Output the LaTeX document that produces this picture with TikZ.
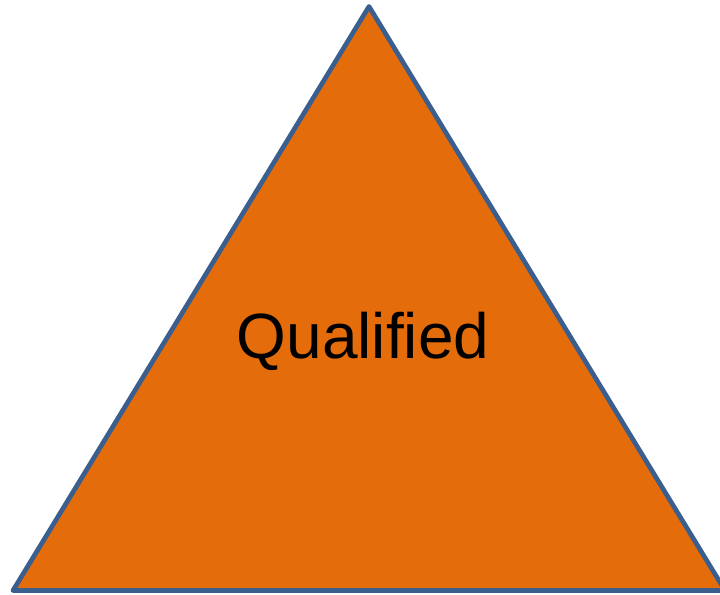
\documentclass[tikz,border=0pt]{standalone}
\usepackage{fontspec}
\setmainfont{Liberation Sans}
\definecolor{triorange}{HTML}{E46C0A}
\definecolor{triblue}{HTML}{3A5F8E}
\tikzset{
  level/.style={fill=triorange, draw=triblue, line width=4pt, line join=round},
  levellabel/.style={font=\fontsize{54.6}{60}\selectfont, text=black, inner sep=0pt}
}
\begin{document}
\begin{tikzpicture}[x=0.03cm, y=-0.03cm]
\useasboundingbox (0,0) rectangle (720,595);
\clip (0,0) rectangle (720,595);
% corners of the triangle
\coordinate (top) at (369,6.5);
\coordinate (left) at (13,590.5);
\coordinate (right) at (725,590.5);
\draw[level] (top) -- (left) -- (right) -- cycle;
\node[levellabel] (qual) at (363,341) {Qualified};
\end{tikzpicture}
\end{document}
